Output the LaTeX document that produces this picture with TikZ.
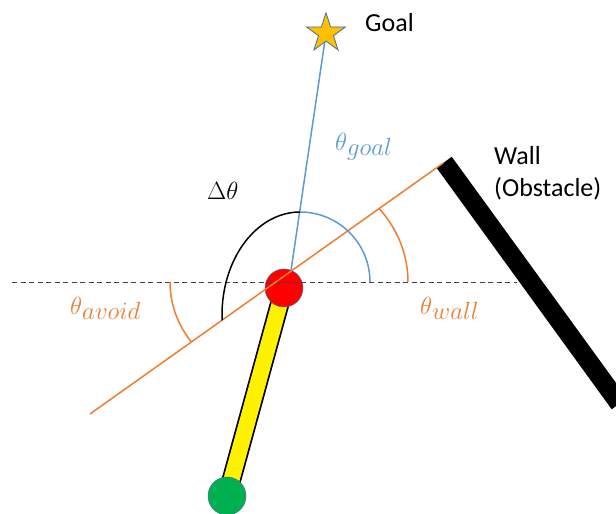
\documentclass[tikz,border=0pt]{standalone}
\usepackage{fontspec}
\newfontfamily\carlito{Carlito}
\usetikzlibrary{shapes.geometric,backgrounds}
\definecolor{orangeL}{HTML}{ED7D31}
\definecolor{blueL}{HTML}{5B9BD5}
\definecolor{starY}{HTML}{FFC000}
\definecolor{greenB}{HTML}{00B050}
\definecolor{outl}{HTML}{41719C}
\newcommand\thlabel[1]{{\fontsize{24}{28}\selectfont$\theta$}\raisebox{-5pt}{\fontsize{23}{27}\selectfont$#1$}}
\begin{document}
\begin{tikzpicture}[x=1pt,y=1pt,
  lbl/.style={inner sep=0pt, anchor=base west},
  txt/.style={lbl, font=\carlito\fontsize{26}{31}\selectfont},
  orangeline/.style={draw=orangeL, line width=1.5pt},
  blueline/.style={draw=blueL, line width=1.5pt},
  blackarc/.style={draw=black, line width=1.5pt},
  dashline/.style={draw=black!75, line width=0.9pt, dash pattern=on 5pt off 3.5pt},
  ball/.style={circle, draw=outl, line width=0.5pt, minimum size=38pt, inner sep=0pt}]
\useasboundingbox (0,0) rectangle (616,514);
\clip (0,0) rectangle (616,514);

% wall
\fill[black] (436.7,346) -- (451.7,357.3) -- (627,116) -- (611.7,104.7) -- cycle;

% robot
\node[ball, fill=greenB] (foot) at (227,18) {};
\node[ball, fill=red] (head) at (284,226) {};
\begin{scope}[on background layer]
  \draw[line width=19.5pt, black] (foot.center) -- (head.center);
  \draw[line width=16pt, yellow] (foot.center) -- (head.center);
\end{scope}

% reference lines
\coordinate (dl) at (12,232);
\coordinate (dr) at (517,232);
\draw[dashline] (dl) -- (dr);
\coordinate (oa) at (90,100);
\coordinate (ob) at (443.3,351);
\draw[orangeline] (oa) -- (ob);
\coordinate (P) at (291,243.5);
\coordinate (starc) at (326,480.7);
\draw[blueline] (P) -- (starc);
\node[star, star points=5, star point ratio=2.618, minimum size=41pt, inner sep=0pt,
      fill=starY, draw=outl, line width=0.8pt] (goal) at (starc) {};

% arcs
\draw[blueline] (370,232) arc[start angle=0, end angle=90, radius=70];
\draw[blackarc] (300,302) arc[start angle=90, end angle=183, x radius=78, y radius=103];
\draw[orangeline] (408,232) arc[start angle=0, end angle=40, x radius=125, y radius=115];
\draw[orangeline] (170,232) arc[start angle=180, end angle=217, x radius=107, y radius=100];

% labels
\node[txt] (goaltxt) at (365,482.3) {Goal};
\node[txt] (walltxt) at (494,349) {Wall};
\node[txt] (obsttxt) at (494,317.3) {(Obstacle)};
\node[lbl, text=blueL] (thgoal) at (335,363) {\thlabel{goal}};
\node[lbl, text=orangeL] (thavoid) at (70,199) {\thlabel{avoid}};
\node[lbl, text=orangeL] (thwall) at (420,199) {\thlabel{wall}};
\node[lbl] (dth) at (207,314) {\fontsize{23}{27}\selectfont$\Delta\theta$};
\end{tikzpicture}
\end{document}
